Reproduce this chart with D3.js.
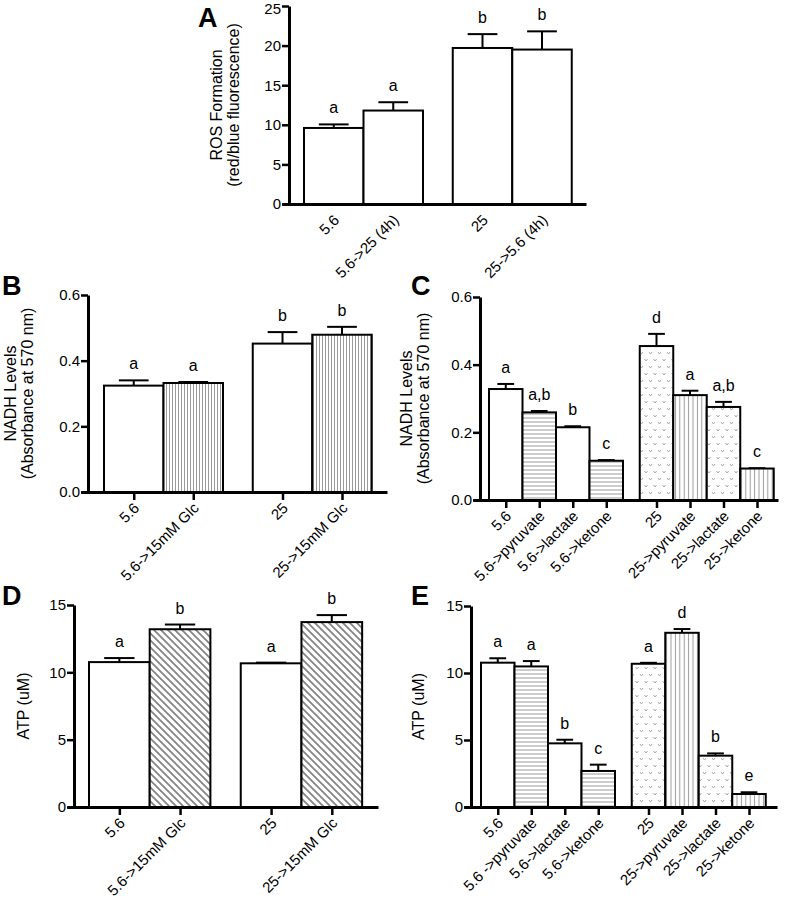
<!DOCTYPE html>
<html>
<head>
<meta charset="utf-8">
<script src="https://cdn.jsdelivr.net/npm/d3@7"></script>
<style>
  body { margin: 0; background: #fff; }
  svg { display: block; font-family: "Liberation Sans", Arial, sans-serif; }
</style>
</head>
<body>
<svg id="chart" width="785" height="900"></svg>
<script>
// ---------------- DATA ----------------
const aCategories = ["5.6", "5.6->25 (4h)", "25", "25->5.6 (4h)"];
const aValues = [9.6, 11.8, 19.7, 19.5];
const aErrors = [0.45, 1.05, 1.75, 2.3];
const aLetters = ["a", "a", "b", "b"];
const aTicks = [0, 5, 10, 15, 20, 25];

const bCategories = ["5.6", "5.6->15mM Glc", "25", "25->15mM Glc"];
const bValues = [0.324, 0.332, 0.452, 0.479];
const bErrors = [0.016, 0.003, 0.035, 0.024];
const bLetters = ["a", "a", "b", "b"];
const bTicks = [0, 0.2, 0.4, 0.6];

const cCategories = ["5.6", "5.6->pyruvate", "5.6->lactate", "5.6->ketone", "25", "25->pyruvate", "25->lactate", "25->ketone"];
const cValues = [0.328, 0.259, 0.215, 0.116, 0.455, 0.310, 0.275, 0.093];
const cErrors = [0.015, 0.004, 0.003, 0.002, 0.036, 0.013, 0.015, 0.001];
const cLetters = ["a", "a,b", "b", "c", "d", "a", "a,b", "c"];
const cTicks = [0, 0.2, 0.4, 0.6];

const dCategories = ["5.6", "5.6->15mM Glc", "25", "25->15mM Glc"];
const dValues = [10.76, 13.2, 10.67, 13.73];
const dErrors = [0.3, 0.35, 0.05, 0.52];
const dLetters = ["a", "b", "a", "b"];
const dTicks = [0, 5, 10, 15];

const eCategories = ["5.6", "5.6 ->pyruvate", "5.6->lactate", "5.6->ketone", "25", "25->pyruvate", "25->lactate", "25->ketone"];
const eValues = [10.77, 10.49, 4.75, 2.69, 10.69, 13.0, 3.83, 0.97];
const eErrors = [0.33, 0.4, 0.27, 0.47, 0.07, 0.28, 0.17, 0.13];
const eLetters = ["a", "a", "b", "c", "a", "d", "b", "e"];
const eTicks = [0, 5, 10, 15];

// ---------------- STYLE / LAYOUT ----------------
const FONT = "'Liberation Sans', Arial, sans-serif";
const svg = d3.select("#chart");
svg.append("rect").attr("width", 785).attr("height", 900).attr("fill", "#fff");

const defs = svg.append("defs");
function linePattern(id, w, h, d, color, sw) {
  const p = defs.append("pattern").attr("id", id).attr("patternUnits", "userSpaceOnUse")
    .attr("width", w).attr("height", h);
  p.append("rect").attr("width", w).attr("height", h).attr("fill", "#fff");
  p.append("path").attr("d", d).attr("stroke", color).attr("stroke-width", sw).attr("fill", "none");
}
linePattern("vDense", 3, 10, "M1.5,0V10", "#9a9a9a", 1);
linePattern("vLines", 4.4, 10, "M2.2,0V10", "#9a9a9a", 1);
linePattern("hLines", 10, 4, "M0,2H10", "#9a9a9a", 1);
linePattern("diag", 7, 7, "M0,0L7,7M-1,6L1,8M6,-1L8,1", "#858585", 1.8);
linePattern("vDots", 9, 14, "M1,2L2.5,4L4,2M5.5,9L7,11L8.5,9", "#a0a0a0", 0.9);

const fillStyles = {
  A: ["#fff", "#fff", "#fff", "#fff"],
  B: ["#fff", "url(#vDense)", "#fff", "url(#vDense)"],
  C: ["#fff", "url(#hLines)", "#fff", "url(#hLines)", "url(#vDots)", "url(#vLines)", "url(#vDots)", "url(#vLines)"],
  D: ["#fff", "url(#diag)", "#fff", "url(#diag)"],
  E: ["#fff", "url(#hLines)", "#fff", "url(#hLines)", "url(#vDots)", "url(#vLines)", "url(#vDots)", "url(#vLines)"]
};

const panels = [
  { id: "A", cats: aCategories, vals: aValues, errs: aErrors, letters: aLetters, ticks: aTicks, fmt: d3.format("d"),
    yMax: 25, axisX: 289, y0: 204, yTop: 6, barStart: 304, barW: 59.5, xEnd: 586, xTicks: false,
    titles: ["ROS Formation", "(red/blue fluorescence)"], titleX: [216, 233],
    letter: [198, 27] },
  { id: "B", cats: bCategories, vals: bValues, errs: bErrors, letters: bLetters, ticks: bTicks, fmt: d3.format(".1f"),
    yMax: 0.6, axisX: 88, y0: 492, yTop: 295, barStart: 104, barW: 59.5, xEnd: 387, xTicks: true,
    titles: ["NADH Levels", "(Absorbance at 570 nm)"], titleX: [10, 27],
    letter: [2, 295] },
  { id: "C", cats: cCategories, vals: cValues, errs: cErrors, letters: cLetters, ticks: cTicks, fmt: d3.format(".1f"),
    yMax: 0.6, axisX: 480, y0: 500, yTop: 297, barStart: 489, barW: 33.5, xEnd: 778, xTicks: true,
    titles: ["NADH Levels", "(Absorbance at 570 nm)"], titleX: [406, 423],
    letter: [411, 295] },
  { id: "D", cats: dCategories, vals: dValues, errs: dErrors, letters: dLetters, ticks: dTicks, fmt: d3.format("d"),
    yMax: 15, axisX: 74, y0: 807, yTop: 605, barStart: 89, barW: 60.7, xEnd: 378, xTicks: true,
    titles: ["ATP (uM)"], titleX: [23],
    letter: [2, 605] },
  { id: "E", cats: eCategories, vals: eValues, errs: eErrors, letters: eLetters, ticks: eTicks, fmt: d3.format("d"),
    yMax: 15, axisX: 471, y0: 807, yTop: 606, barStart: 481, barW: 33.5, xEnd: 777, xTicks: true,
    titles: ["ATP (uM)"], titleX: [418],
    letter: [411, 605] }
];

panels.forEach(p => {
  const g = svg.append("g");
  const n = p.cats.length;
  const slot = i => i + (i >= n / 2 ? 0.5 : 0);
  const tickLen = 7;
  const left = p.axisX - tickLen;
  // x scale in slot units
  const x = d3.scaleLinear()
    .domain([(left - p.barStart) / p.barW, (p.xEnd - p.barStart) / p.barW])
    .range([left, p.xEnd]);
  const y = d3.scaleLinear().domain([0, p.yMax]).range([p.y0, p.yTop]);

  // bars
  const bars = g.append("g");
  p.vals.forEach((v, i) => {
    const x0 = x(slot(i)), x1 = x(slot(i) + 1);
    const cx = (x0 + x1) / 2;
    const capHalf = (x1 - x0) / 4;
    const top = y(v + p.errs[i]);
    bars.append("line").attr("x1", cx).attr("x2", cx).attr("y1", y(v)).attr("y2", top)
      .attr("stroke", "#000").attr("stroke-width", 2);
    bars.append("line").attr("x1", cx - capHalf).attr("x2", cx + capHalf)
      .attr("y1", top).attr("y2", top)
      .attr("stroke", "#000").attr("stroke-width", 2);
    bars.append("rect").attr("x", x0).attr("y", y(v)).attr("width", x1 - x0).attr("height", y(0) - y(v))
      .attr("fill", fillStyles[p.id][i]).attr("stroke", "#000").attr("stroke-width", 2);
    g.append("text").attr("x", cx).attr("y", top - 11)
      .attr("text-anchor", "middle").attr("font-size", 16).attr("font-family", FONT)
      .text(p.letters[i]);
  });

  // y axis
  const yAxis = g.append("g").attr("transform", `translate(${p.axisX},0)`)
    .call(d3.axisLeft(y).tickValues(p.ticks).tickFormat(p.fmt).tickSize(tickLen).tickSizeOuter(0).tickPadding(1));
  yAxis.select(".domain").attr("stroke-width", 3).attr("stroke", "#000");
  yAxis.selectAll(".tick line").attr("stroke-width", 2.5);
  yAxis.selectAll(".tick text").attr("font-size", 15).attr("font-family", FONT).attr("fill", "#000");
  // keep the topmost label of panel A inside the picture
  if (p.id === "A") {
    yAxis.selectAll(".tick text").filter(d => d === p.yMax).attr("dy", "0.5em");
  }

  // x axis
  const xAxis = g.append("g").attr("transform", `translate(0,${p.y0})`)
    .call(d3.axisBottom(x).tickValues(p.cats.map((c, i) => slot(i) + 0.5))
      .tickFormat((d, i) => p.cats[i]).tickSize(p.xTicks ? 8 : 0).tickSizeOuter(0));
  xAxis.select(".domain").attr("stroke-width", 3).attr("stroke", "#000");
  xAxis.selectAll(".tick line").attr("stroke-width", 2.5);
  xAxis.selectAll(".tick text")
    .attr("font-size", 15).attr("font-family", FONT).attr("fill", "#000")
    .attr("text-anchor", "end").attr("x", 0).attr("y", 0).attr("dy", 0)
    .attr("transform", "translate(6,17) rotate(-45)");

  // y title
  const cy = (p.y0 + p.yTop) / 2;
  p.titles.forEach((t, k) => {
    g.append("text").attr("transform", `translate(${p.titleX[k]},${cy}) rotate(-90)`)
      .attr("text-anchor", "middle").attr("dy", "0.35em")
      .attr("font-size", 16).attr("font-family", FONT).text(t);
  });

  // panel letter
  g.append("text").attr("x", p.letter[0]).attr("y", p.letter[1])
    .attr("font-size", 27).attr("font-weight", "bold").attr("font-family", FONT).text(p.id);
});
</script>
</body>
</html>
